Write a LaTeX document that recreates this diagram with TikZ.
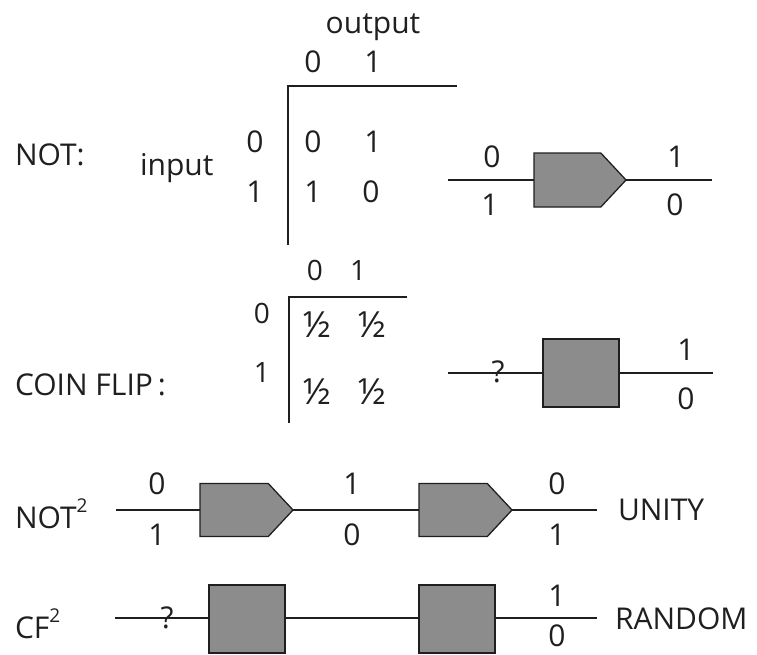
\documentclass[tikz,border=0pt]{standalone}
\usepackage{fontspec}
\setmainfont{Open Sans}
\usetikzlibrary{shapes.symbols}
\definecolor{ink}{gray}{0.12}
\definecolor{gatefill}{gray}{0.55}
% raised exponent in the row labels
\newcommand{\sqmark}{\raisebox{16pt}{\fontsize{19}{19}\selectfont 2}}
\tikzset{
  every node/.style={inner sep=0pt, outer sep=0pt, text=ink},
  txt/.style={font=\fontsize{30}{36}\selectfont},
  small/.style={font=\fontsize{28}{34}\selectfont},
  half/.style={font=\fontsize{36}{40}\selectfont},
  wire/.style={draw=ink, line width=1.6pt},
  rule/.style={draw=ink, line width=1.6pt},
  notgate/.style={shape=signal, signal to=east, signal from=nowhere,
    signal pointer angle=94, draw=ink, line width=1.3pt, fill=gatefill,
    minimum width=92pt, minimum height=54pt, anchor=west},
  cfgate/.style={shape=rectangle, draw=ink, line width=1.3pt, fill=gatefill,
    minimum width=76pt, minimum height=68pt, anchor=west},
}
\begin{document}
\begin{tikzpicture}[x=1pt, y=-1pt]
\useasboundingbox (0,0) rectangle (757,654);

% ---------- NOT truth table ----------
\node[txt, anchor=base] (outlbl) at (373,33) {output};
\node[txt] (nh0) at (313,62) {0};
\node[txt] (nh1) at (373,62) {1};
\node[txt] (nr0) at (255,142) {0};
\node[txt] (nr1) at (255,192) {1};
\node[txt] (n00) at (313,142) {0};
\node[txt] (n01) at (373,142) {1};
\node[txt] (n10) at (313,192) {1};
\node[txt] (n11) at (371,192) {0};
\node[txt, anchor=base west] (notlbl) at (15,165) {NOT:};
\node[txt, anchor=base west] (inlbl) at (140,175) {input};
\coordinate (nc) at (288,86);
\draw[rule] (457,86) -- (nc) -- (288,245);

% ---------- NOT gate ----------
\node[notgate] (ng) at (534,180) {};
\coordinate (ngin) at (448,180);
\coordinate (ngout) at (712,180);
\draw[wire] (ngin) -- (ng.west);
\draw[wire] (ng.east) -- (ngout);
\node[txt] (ngi0) at (492,157) {0};
\node[txt] (ngi1) at (490,205) {1};
\node[txt] (ngo1) at (676,157) {1};
\node[txt] (ngo0) at (675,205) {0};

% ---------- COIN FLIP table ----------
\node[small] (ch0) at (315,270) {0};
\node[small] (ch1) at (358,270) {1};
\node[small] (cr0) at (262,313) {0};
\node[small] (cr1) at (262,372) {1};
\node[half] (c00) at (317,325) {½};
\node[half] (c01) at (372,325) {½};
\node[half] (c10) at (317,392) {½};
\node[half] (c11) at (372,392) {½};
\node[txt, anchor=base west] (cflbl) at (15,395) {COIN FLIP\,:};
\coordinate (cc) at (289,297);
\draw[rule] (407,297) -- (cc) -- (289,423);

% ---------- COIN FLIP gate ----------
\node[cfgate] (cg) at (543,373) {};
\coordinate (cgin) at (448,373);
\coordinate (cgout) at (713,373);
\draw[wire] (cgin) -- (cg.west);
\draw[wire] (cg.east) -- (cgout);
\node[txt] (cgq) at (498,372) {?};
\node[txt] (cgo1) at (686,350) {1};
\node[txt] (cgo0) at (686,399) {0};

% ---------- NOT squared ----------
\node[txt, anchor=base west] (not2lbl) at (15,528) {NOT\sqmark};
\node[notgate, minimum width=93pt, minimum height=53pt] (ga) at (200,510) {};
\node[notgate, minimum width=93pt, minimum height=53pt] (gb) at (419,510) {};
\coordinate (gin) at (116,510);
\coordinate (gout) at (597,510);
\draw[wire] (gin) -- (ga.west);
\draw[wire] (ga.east) -- (gb.west);
\draw[wire] (gb.east) -- (gout);
\node[txt] (a0) at (157,484) {0};
\node[txt] (a1) at (157,535) {1};
\node[txt] (m1) at (352,484) {1};
\node[txt] (m0) at (352,535) {0};
\node[txt] (b0) at (557,484) {0};
\node[txt] (b1) at (557,535) {1};
\node[txt, anchor=base west] (unity) at (618,520) {UNITY};

% ---------- CF squared ----------
\node[txt, anchor=base west] (cf2lbl) at (15,638) {CF\sqmark};
\node[cfgate] (ba) at (209,619) {};
\node[cfgate] (bb) at (419,619) {};
\coordinate (bin) at (115,618);
\coordinate (bout) at (597,618);
\draw[wire] (bin) -- (ba.west |- bin);
\draw[wire] (ba.east |- bin) -- (bb.west |- bin);
\draw[wire] (bb.east |- bout) -- (bout);
\node[txt] (bq) at (167,618) {?};
\node[txt] (bo1) at (557,596) {1};
\node[txt] (bo0) at (557,636) {0};
\node[txt, anchor=base west] (random) at (615,629) {RANDOM};
\end{tikzpicture}
\end{document}
